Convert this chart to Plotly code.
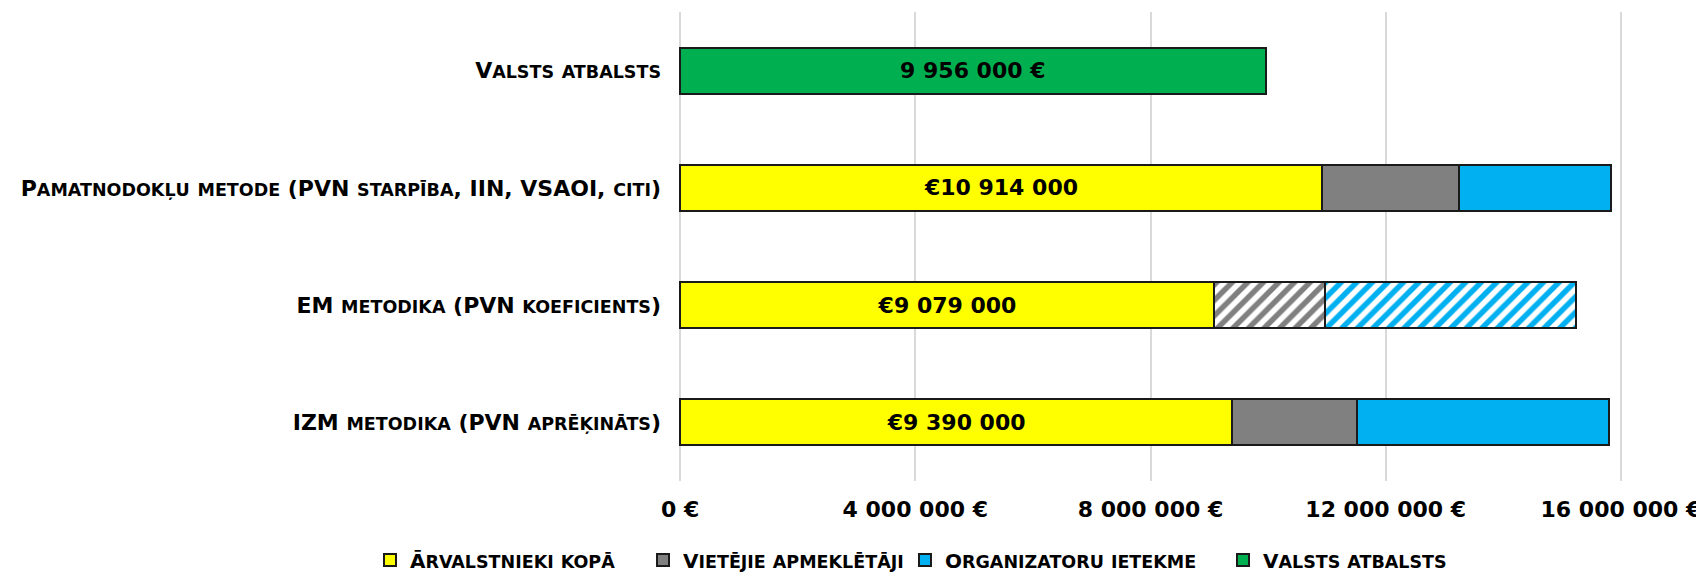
import re
import plotly.graph_objects as go

categories = [
    "IZM metodika (PVN aprēķināts)",
    "EM metodika (PVN koeficients)",
    "Pamatnodokļu metode (PVN starpība, IIN, VSAOI, citi)",
    "Valsts atbalsts",
]
series_names = ["Ārvalstnieki kopā", "Vietējie apmeklētāji", "Organizatoru ietekme", "Valsts atbalsts"]

foreign = [9390000, 9079000, 10914000, None]
local = [2121000, None, 2334000, None]
local_em = [None, 1888000, None, None]
org = [4285000, None, 2577000, None]
org_em = [None, 4274000, None, None]
state = [None, None, None, 9956000]

foreign_labels = ["€9 390 000", "€9 079 000", "€10 914 000", ""]
state_labels = ["", "", "", "9 956 000 €"]

tick_vals = [0, 4000000, 8000000, 12000000, 16000000]
tick_text = ["0 €", "4 000 000 €", "8 000 000 €", "12 000 000 €", "16 000 000 €"]


def smallcaps(s, small_px):
    """Render lowercase letters as reduced-size capitals (small caps)."""
    return re.sub(r"[^\W\d_A-ZĀĒĪŪĶĻŅŠŽČĢ]+",
                  lambda m: f'<span style="font-size:{small_px}px">{m.group(0).upper()}</span>', s)


FONT = "DejaVu Sans"
YELLOW = "#FFFF00"
GRAY = "#808080"
BLUE = "#00B0F0"
GREEN = "#00B050"
OUTLINE = dict(color="#1a1a1a", width=2)
label_font = dict(family=FONT, size=22, color="black", weight="bold")

cat_ticktext = [smallcaps(c, 17.5) for c in categories]
legend_names = [smallcaps(n, 17.5) for n in series_names]

fig = go.Figure()
fig.add_trace(go.Bar(
    y=categories, x=foreign, orientation="h", name=legend_names[0], legend="legend",
    marker=dict(color=YELLOW, line=OUTLINE),
    text=foreign_labels, textposition="inside", insidetextanchor="middle",
    textangle=0, textfont=label_font, constraintext="none",
))
fig.add_trace(go.Bar(
    y=categories, x=local, orientation="h", name=legend_names[1], legend="legend2",
    marker=dict(color=GRAY, line=OUTLINE),
))
fig.add_trace(go.Bar(
    y=categories, x=local_em, orientation="h", name=legend_names[1], showlegend=False,
    marker=dict(color="white", line=OUTLINE,
                pattern=dict(shape="/", fgcolor=GRAY, bgcolor="white", size=11, solidity=0.5,
                             fillmode="replace")),
))
fig.add_trace(go.Bar(
    y=categories, x=org, orientation="h", name=legend_names[2], legend="legend3",
    marker=dict(color=BLUE, line=OUTLINE),
))
fig.add_trace(go.Bar(
    y=categories, x=org_em, orientation="h", name=legend_names[2], showlegend=False,
    marker=dict(color="white", line=OUTLINE,
                pattern=dict(shape="/", fgcolor=BLUE, bgcolor="white", size=11, solidity=0.5,
                             fillmode="replace")),
))
fig.add_trace(go.Bar(
    y=categories, x=state, orientation="h", name=legend_names[3], legend="legend4",
    marker=dict(color=GREEN, line=OUTLINE),
    text=state_labels, textposition="inside", insidetextanchor="middle",
    textangle=0, textfont=label_font, constraintext="none",
))

W, H = 1696, 565
legend_font = dict(family=FONT, size=20, color="black", weight="bold")
legend_left_px = [362, 635, 897, 1215]


def legend_box(px):
    return dict(
        orientation="h", xref="container", yref="container",
        x=px / W, xanchor="left", y=1 - 552 / H, yanchor="middle",
        font=legend_font, itemwidth=30, bgcolor="rgba(0,0,0,0)",
    )


fig.update_layout(
    width=W, height=H,
    barmode="stack", bargap=0.608,
    plot_bgcolor="white", paper_bgcolor="white",
    margin=dict(l=670, r=81, t=4, b=92, autoexpand=False),
    font=dict(family=FONT, color="black"),
    legend=legend_box(legend_left_px[0]),
    legend2=legend_box(legend_left_px[1]),
    legend3=legend_box(legend_left_px[2]),
    legend4=legend_box(legend_left_px[3]),
    xaxis=dict(
        range=[-35000, 16035000], tickvals=tick_vals, ticktext=tick_text,
        showgrid=True, gridcolor="#D9D9D9", gridwidth=2, zeroline=False,
        showline=False, ticks="", ticklabelstandoff=13, tickangle=0, automargin=False,
        tickfont=dict(family=FONT, size=22, color="black", weight="bold"),
        fixedrange=True,
    ),
    yaxis=dict(
        type="category", categoryorder="array", categoryarray=categories,
        tickmode="array", tickvals=categories, ticktext=cat_ticktext,
        showgrid=False, zeroline=False, showline=False, ticks="", automargin=False,
        ticklabelstandoff=16,
        tickfont=dict(family=FONT, size=22, color="black", weight="bold"),
        fixedrange=True,
    ),
)

fig.write_html("out.html")
